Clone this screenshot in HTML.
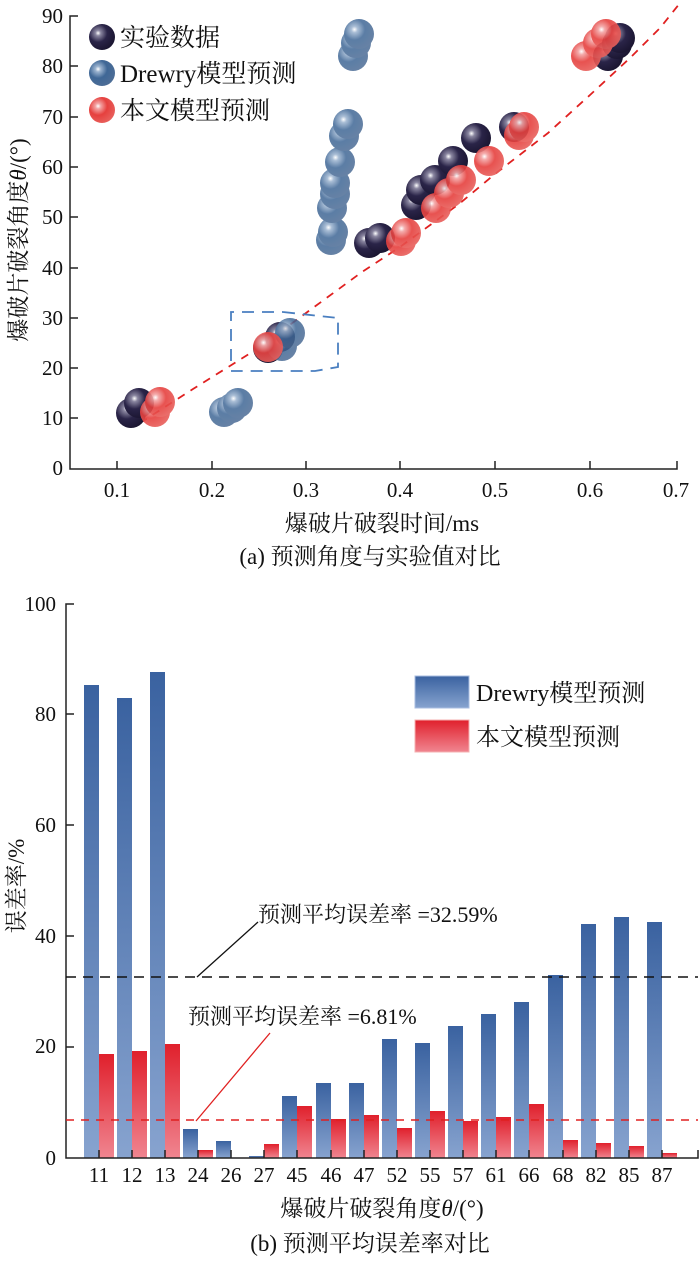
<!DOCTYPE html><html><head><meta charset="utf-8"><style>body{margin:0;background:#fff}svg{display:block}text{font-family:"Liberation Serif","Noto Serif CJK SC",serif;fill:#111}</style></head><body>
<svg width="700" height="1282" viewBox="0 0 700 1282" xmlns="http://www.w3.org/2000/svg">
<defs>
<radialGradient id="gk" cx="0.35" cy="0.35" r="0.7"><stop offset="0" stop-color="#fff"/><stop offset="0.15" stop-color="#8a86a0"/><stop offset="0.5" stop-color="#2a2448"/><stop offset="1" stop-color="#1a1530"/></radialGradient>
<radialGradient id="gb" cx="0.35" cy="0.35" r="0.7"><stop offset="0" stop-color="#fff"/><stop offset="0.15" stop-color="#9bb3cf"/><stop offset="0.5" stop-color="#3f6796"/><stop offset="1" stop-color="#4d6d96"/></radialGradient>
<radialGradient id="gr" cx="0.35" cy="0.35" r="0.7"><stop offset="0" stop-color="#fff"/><stop offset="0.15" stop-color="#f3a3a3"/><stop offset="0.5" stop-color="#e6403e"/><stop offset="1" stop-color="#e8605c"/></radialGradient>
<linearGradient id="lb" x1="0" y1="0" x2="0" y2="1"><stop offset="0" stop-color="#3a62a0"/><stop offset="1" stop-color="#87a3cf"/></linearGradient>
<linearGradient id="lr" x1="0" y1="0" x2="0" y2="1"><stop offset="0" stop-color="#e0202c"/><stop offset="1" stop-color="#f08590"/></linearGradient>
</defs>
<g stroke="#222" stroke-width="1.5" fill="none">
<path d="M78,16 H70 V469 H677 V461"/>
<path d="M70,66H78M70,117H78M70,167H78M70,217H78M70,268H78M70,318H78M70,368H78M70,418H78"/>
<path d="M117,469V461M212,469V461M306,469V461M400,469V461M495,469V461M590,469V461"/>
</g>
<g font-size="21" text-anchor="end">
<text x="63" y="23">90</text><text x="63" y="73">80</text><text x="63" y="124">70</text><text x="63" y="174">60</text><text x="63" y="224">50</text><text x="63" y="275">40</text><text x="63" y="325">30</text><text x="63" y="375">20</text><text x="63" y="425">10</text><text x="63" y="475">0</text>
</g>
<g font-size="21" text-anchor="middle">
<text x="117" y="497">0.1</text><text x="212" y="497">0.2</text><text x="306" y="497">0.3</text><text x="400" y="497">0.4</text><text x="495" y="497">0.5</text><text x="590" y="497">0.6</text><text x="676" y="497">0.7</text>
</g>
<g font-size="23" text-anchor="middle">
<text x="382" y="531">爆破片破裂时间/ms</text>
<text x="370" y="564">(a) 预测角度与实验值对比</text>
</g>
<text transform="translate(26,240) rotate(-90)" font-size="23" text-anchor="middle">爆破片破裂角度<tspan font-style="italic">θ</tspan>/(°)</text>
<path d="M140,423 L193,389 L257,349 L306,313 L362,272 L400,247 L459,204 L495,174 L548,133 L590,95 L630,58 L660,28 L680,3" stroke="#e02020" stroke-width="1.8" fill="none" stroke-dasharray="8,7"/>
<path d="M231,361V312H283M283,312L338,318V367L315,371H231" stroke="#4a7fc0" stroke-width="1.8" fill="none" stroke-dasharray="12,8"/>
<g fill="url(#gk)">
<circle cx="131" cy="413" r="15"/><circle cx="139" cy="403" r="15"/><circle cx="268" cy="348" r="15"/><circle cx="280" cy="337" r="15"/><circle cx="369" cy="243" r="15"/><circle cx="380" cy="238" r="15"/><circle cx="416" cy="205" r="15"/><circle cx="421" cy="190" r="15"/><circle cx="435" cy="180" r="15"/><circle cx="453" cy="161" r="15"/><circle cx="476" cy="138" r="15"/><circle cx="514" cy="127" r="15"/><circle cx="608" cy="56" r="15"/><circle cx="617" cy="44" r="15"/><circle cx="620" cy="38" r="15"/>
</g>
<g fill="url(#gb)" opacity="0.85">
<circle cx="224" cy="412" r="15"/><circle cx="232" cy="408" r="15"/><circle cx="238" cy="403" r="15"/><circle cx="282" cy="346" r="15"/><circle cx="290" cy="333" r="15"/><circle cx="331" cy="240" r="15"/><circle cx="333" cy="232" r="15"/><circle cx="332" cy="208" r="15"/><circle cx="335" cy="194" r="15"/><circle cx="335" cy="183" r="15"/><circle cx="340" cy="162" r="15"/><circle cx="344" cy="136" r="15"/><circle cx="348" cy="124" r="15"/><circle cx="353" cy="56" r="15"/><circle cx="356" cy="43" r="15"/><circle cx="359" cy="34" r="15"/>
</g>
<g fill="url(#gr)" opacity="0.9">
<circle cx="155" cy="412" r="15"/><circle cx="160" cy="402" r="15"/><circle cx="268" cy="347" r="15"/><circle cx="401" cy="241" r="15"/><circle cx="406" cy="233" r="15"/><circle cx="436" cy="208" r="15"/><circle cx="449" cy="193" r="15"/><circle cx="461" cy="180" r="15"/><circle cx="489" cy="161" r="15"/><circle cx="519" cy="135" r="15"/><circle cx="524" cy="127" r="15"/><circle cx="586" cy="56" r="15"/><circle cx="598" cy="43" r="15"/><circle cx="606" cy="34" r="15"/>
</g>
<circle cx="102" cy="37" r="13" fill="url(#gk)"/><circle cx="102" cy="73" r="13" fill="url(#gb)"/><circle cx="102" cy="110" r="13" fill="url(#gr)"/>
<g font-size="25"><text x="120" y="46">实验数据</text><text x="120" y="82">Drewry模型预测</text><text x="120" y="119">本文模型预测</text></g>

<g fill="url(#lb)">
<rect x="84" y="685" width="15" height="473"/><rect x="117" y="698" width="15" height="460"/><rect x="150" y="672" width="15" height="486"/><rect x="183" y="1129" width="15" height="29"/><rect x="216" y="1141" width="15" height="17"/><rect x="249" y="1156" width="15" height="2"/><rect x="282" y="1096" width="15" height="62"/><rect x="316" y="1083" width="15" height="75"/><rect x="349" y="1083" width="15" height="75"/><rect x="382" y="1039" width="15" height="119"/><rect x="415" y="1043" width="15" height="115"/><rect x="448" y="1026" width="15" height="132"/><rect x="481" y="1014" width="15" height="144"/><rect x="514" y="1002" width="15" height="156"/><rect x="548" y="975" width="15" height="183"/><rect x="581" y="924" width="15" height="234"/><rect x="614" y="917" width="15" height="241"/><rect x="647" y="922" width="15" height="236"/>
</g>
<g fill="url(#lr)">
<rect x="99" y="1054" width="15" height="104"/><rect x="132" y="1051" width="15" height="107"/><rect x="165" y="1044" width="15" height="114"/><rect x="198" y="1150" width="15" height="8"/><rect x="264" y="1144" width="15" height="14"/><rect x="297" y="1106" width="15" height="52"/><rect x="331" y="1119" width="15" height="39"/><rect x="364" y="1115" width="15" height="43"/><rect x="397" y="1128" width="15" height="30"/><rect x="430" y="1111" width="15" height="47"/><rect x="463" y="1121" width="15" height="37"/><rect x="496" y="1117" width="15" height="41"/><rect x="529" y="1104" width="15" height="54"/><rect x="563" y="1140" width="15" height="18"/><rect x="596" y="1143" width="15" height="15"/><rect x="629" y="1146" width="15" height="12"/><rect x="662" y="1153" width="15" height="5"/>
</g>
<g stroke="#222" stroke-width="1.5" fill="none">
<path d="M74,604 H66 V1158 H698 V1150"/>
<path d="M66,714H74M66,825H74M66,936H74M66,1047H74"/>
<path d="M99,1158V1150M132,1158V1150M165,1158V1150M198,1158V1150M231,1158V1150M264,1158V1150M297,1158V1150M331,1158V1150M364,1158V1150M397,1158V1150M430,1158V1150M463,1158V1150M496,1158V1150M529,1158V1150M563,1158V1150M596,1158V1150M629,1158V1150M662,1158V1150"/>
</g>
<g font-size="21" text-anchor="end">
<text x="56" y="611">100</text><text x="56" y="721">80</text><text x="56" y="832">60</text><text x="56" y="943">40</text><text x="56" y="1053">20</text><text x="56" y="1165">0</text>
</g>
<text transform="translate(24,886) rotate(-90)" font-size="23" text-anchor="middle">误差率/%</text>
<g font-size="21" text-anchor="middle">
<text x="99" y="1182">11</text><text x="132" y="1182">12</text><text x="165" y="1182">13</text><text x="198" y="1182">24</text><text x="231" y="1182">26</text><text x="264" y="1182">27</text><text x="297" y="1182">45</text><text x="331" y="1182">46</text><text x="364" y="1182">47</text><text x="397" y="1182">52</text><text x="430" y="1182">55</text><text x="463" y="1182">57</text><text x="496" y="1182">61</text><text x="529" y="1182">66</text><text x="563" y="1182">68</text><text x="596" y="1182">82</text><text x="629" y="1182">85</text><text x="662" y="1182">87</text>
</g>
<g font-size="23" text-anchor="middle">
<text x="382" y="1216">爆破片破裂角度<tspan font-style="italic">θ</tspan>/(°)</text>
<text x="370" y="1251">(b) 预测平均误差率对比</text>
</g>
<path d="M66,977H698" stroke="#111" stroke-width="1.5" stroke-dasharray="10,7"/>
<path d="M66,1120H698" stroke="#e02020" stroke-width="1.5" stroke-dasharray="8,7"/>
<path d="M258,922L197,977" stroke="#111" stroke-width="1.3"/>
<path d="M270,1033L196,1121" stroke="#e02020" stroke-width="1.3"/>
<g font-size="22"><text x="258" y="922">预测平均误差率 =32.59%</text><text x="188" y="1024">预测平均误差率 =6.81%</text></g>
<rect x="415" y="676" width="54" height="32" fill="url(#lb)" stroke="#a8bde0"/>
<rect x="415" y="720" width="54" height="32" fill="url(#lr)" stroke="#f4b0b0"/>
<g font-size="24"><text x="476" y="701">Drewry模型预测</text><text x="476" y="745">本文模型预测</text></g>
</svg>
</body></html>
